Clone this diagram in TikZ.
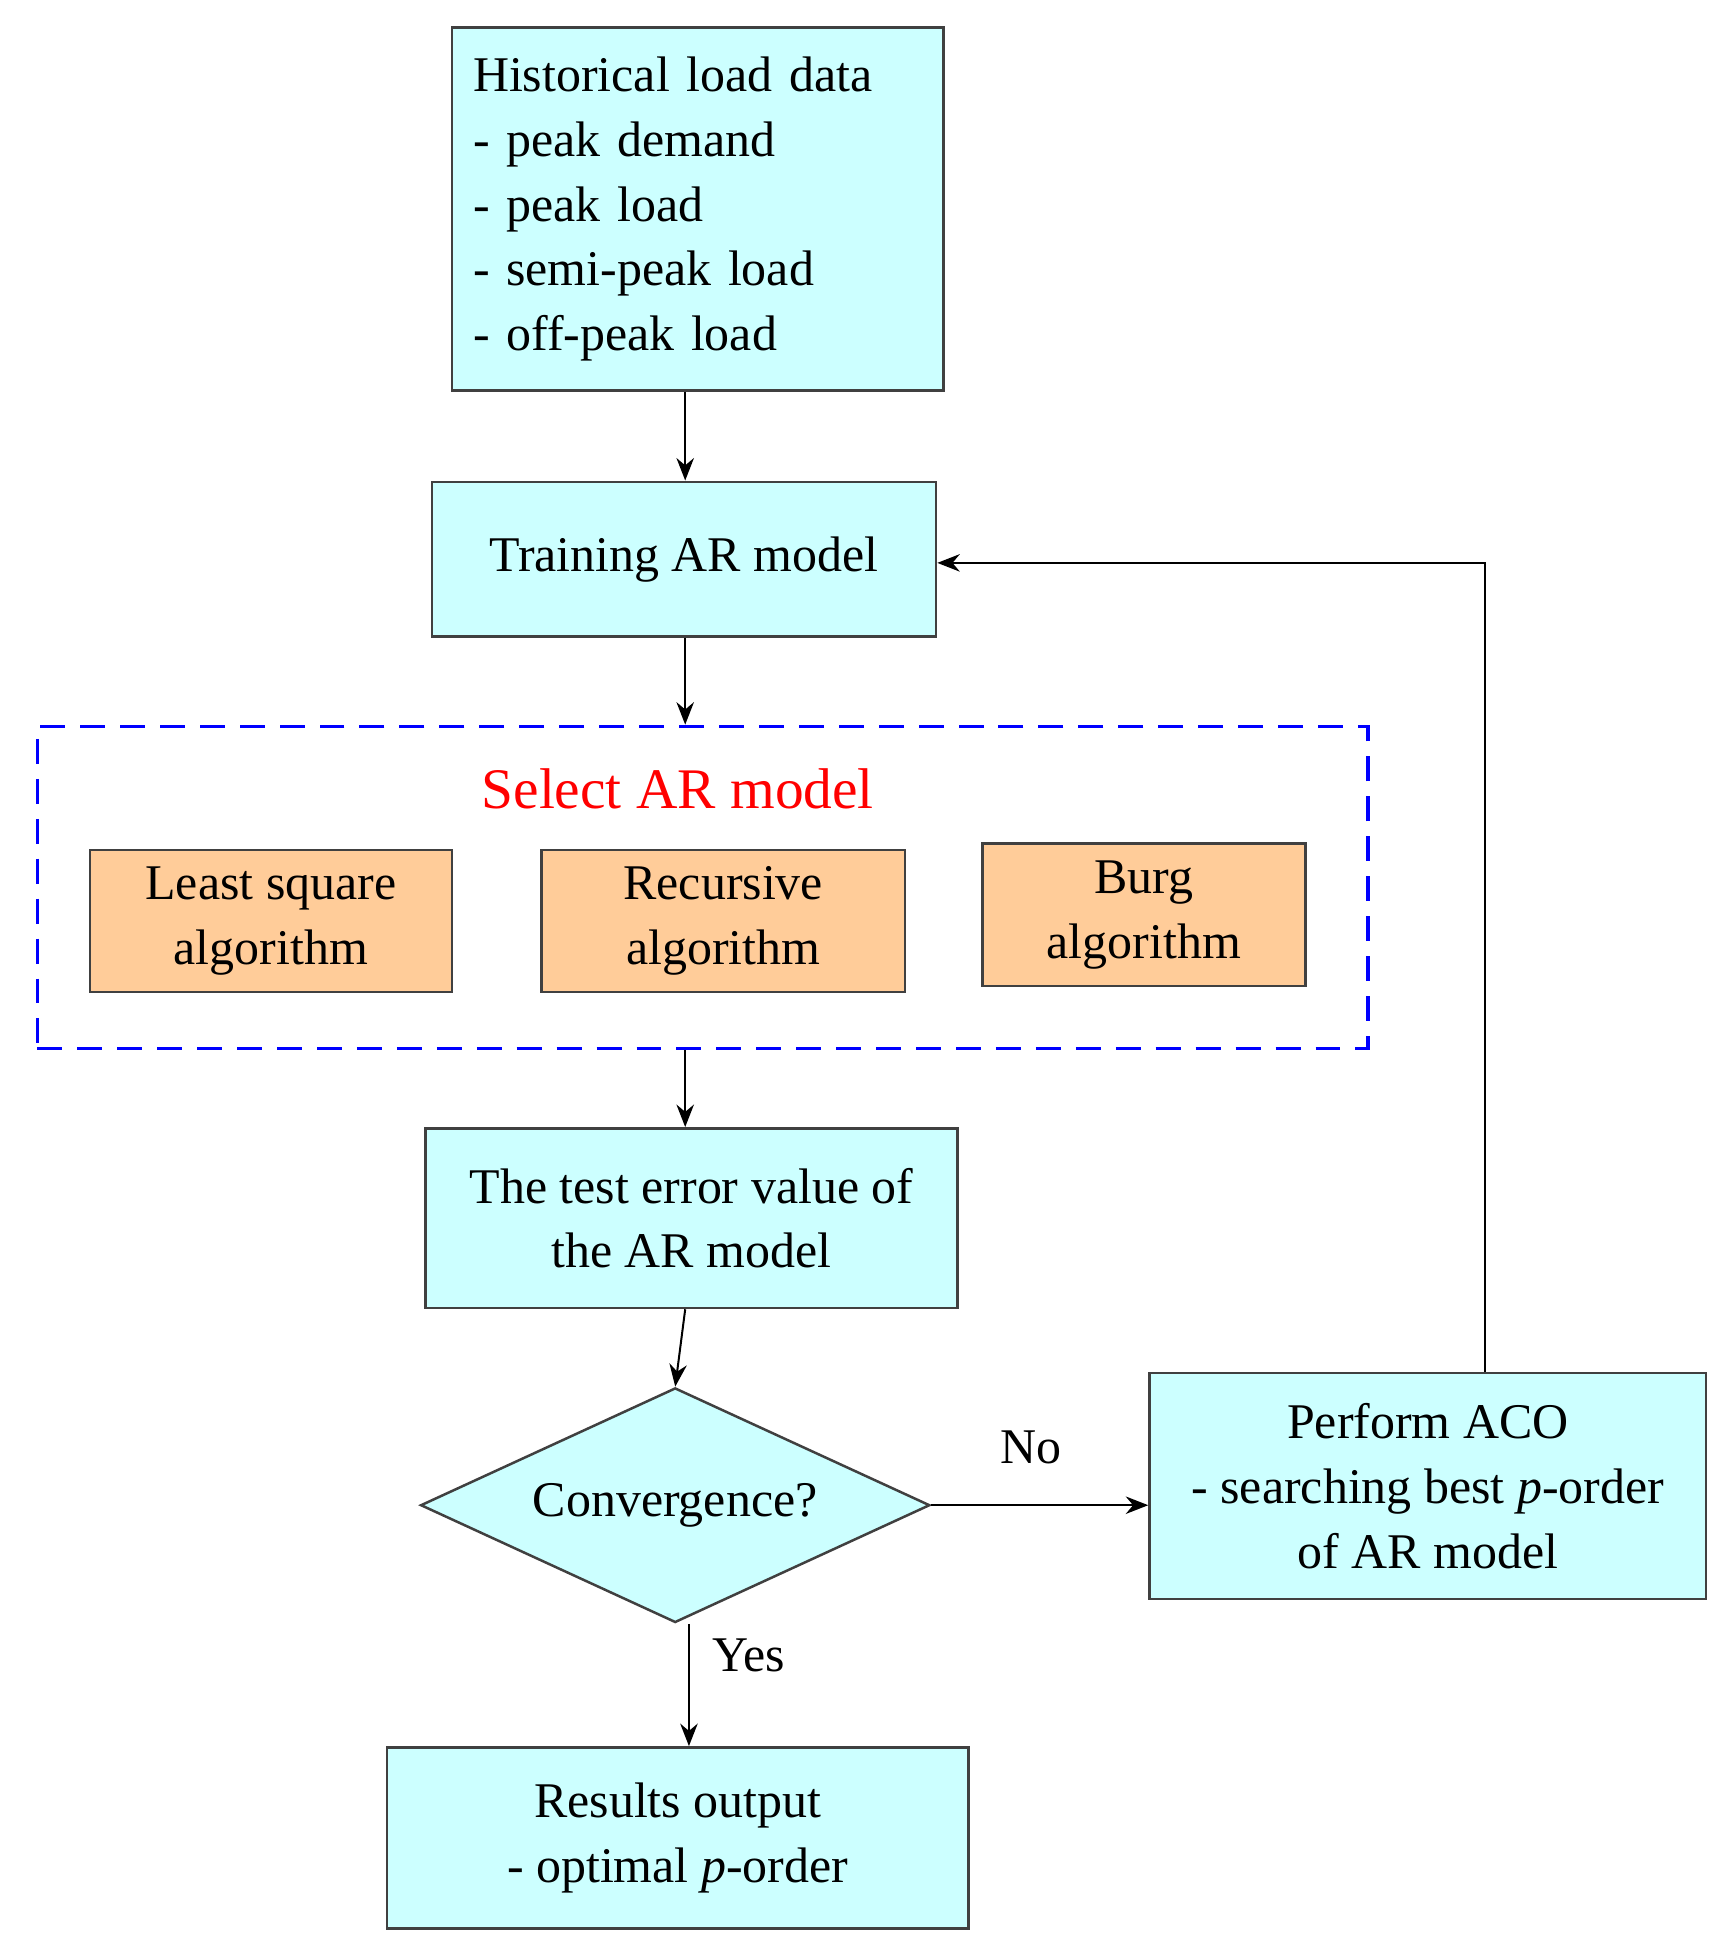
\documentclass[tikz,border=0pt]{standalone}
\usepackage{fontspec}
\setmainfont{Liberation Serif}
\usetikzlibrary{arrows.meta,shapes.geometric}
\definecolor{cy}{HTML}{CCFFFF}
\definecolor{og}{HTML}{FFCC99}
\begin{document}
\begin{tikzpicture}[x=0.5pt,y=-0.5pt,
 box/.style={draw=black!75,line width=1pt,fill=cy,inner sep=0pt,align=center,font=\fontsize{20}{26}\selectfont},
 alg/.style={box,fill=og},
 arr/.style={-{Stealth[length=9pt,width=7pt]},line width=0.8pt}]
\useasboundingbox (0,0) rectangle (1384,1568);
\node[box,minimum width=197pt,minimum height=145.5pt,align=left,text width=180pt] (h) at (559,167.5)
 {Historical load data\\- peak demand\\- peak load\\- semi-peak load\\- off-peak load};
\node[box,minimum width=202pt,minimum height=62pt] (t) at (548,448) {Training AR model};
\node[draw=blue,dash pattern=on 10pt off 6pt,line width=1.4pt,minimum width=533pt,minimum height=129pt,inner sep=0pt] (s) at (563,711) {};
\node[text=red,font=\fontsize{23}{26}\selectfont] (sl) at (543,632) {Select AR model};
\node[alg,minimum width=145pt,minimum height=57pt] (a1) at (217,738) {Least square\\algorithm};
\node[alg,minimum width=145.5pt,minimum height=57pt] (a2) at (579.5,738) {Recursive\\algorithm};
\node[alg,minimum width=129.5pt,minimum height=57pt] (a3) at (916.5,733) {Burg\\algorithm};
\node[box,minimum width=213pt,minimum height=72pt] (e) at (554,976) {The test error value of\\the AR model};
\node[box,diamond,aspect=2.17,minimum width=204pt,minimum height=94pt] (d) at (541,1206) {Convergence?};
\node[box,minimum width=223pt,minimum height=90.5pt] (p) at (1144,1190.5) {Perform ACO\\- searching best \textit{p}-order\\of AR model};
\node[box,minimum width=233pt,minimum height=72.5pt] (r) at (543,1472.5) {Results output\\- optimal \textit{p}-order};
\draw[arr] (h.south -| 549,0) -- (t.north -| 549,0);
\draw[arr] (t.south -| 549,0) -- (s.north -| 549,0);
\draw[arr] (s.south -| 549,0) -- (e.north -| 549,0);
\draw[arr] (e.south -| 549,0) -- (d.north);
\draw[arr] (d.south -| 552,0) -- (r.north -| 552,0);
\draw[arr] (d.east) -- (p.west |- d.east);
\coordinate (c) at (1190,451);
\draw[arr] (p.north -| c) -- (c) -- (t.east |- c);
\node[font=\fontsize{20}{24}\selectfont] (no) at (826,1160) {No};
\node[font=\fontsize{20}{24}\selectfont] (yes) at (600,1326) {Yes};
\end{tikzpicture}
\end{document}
